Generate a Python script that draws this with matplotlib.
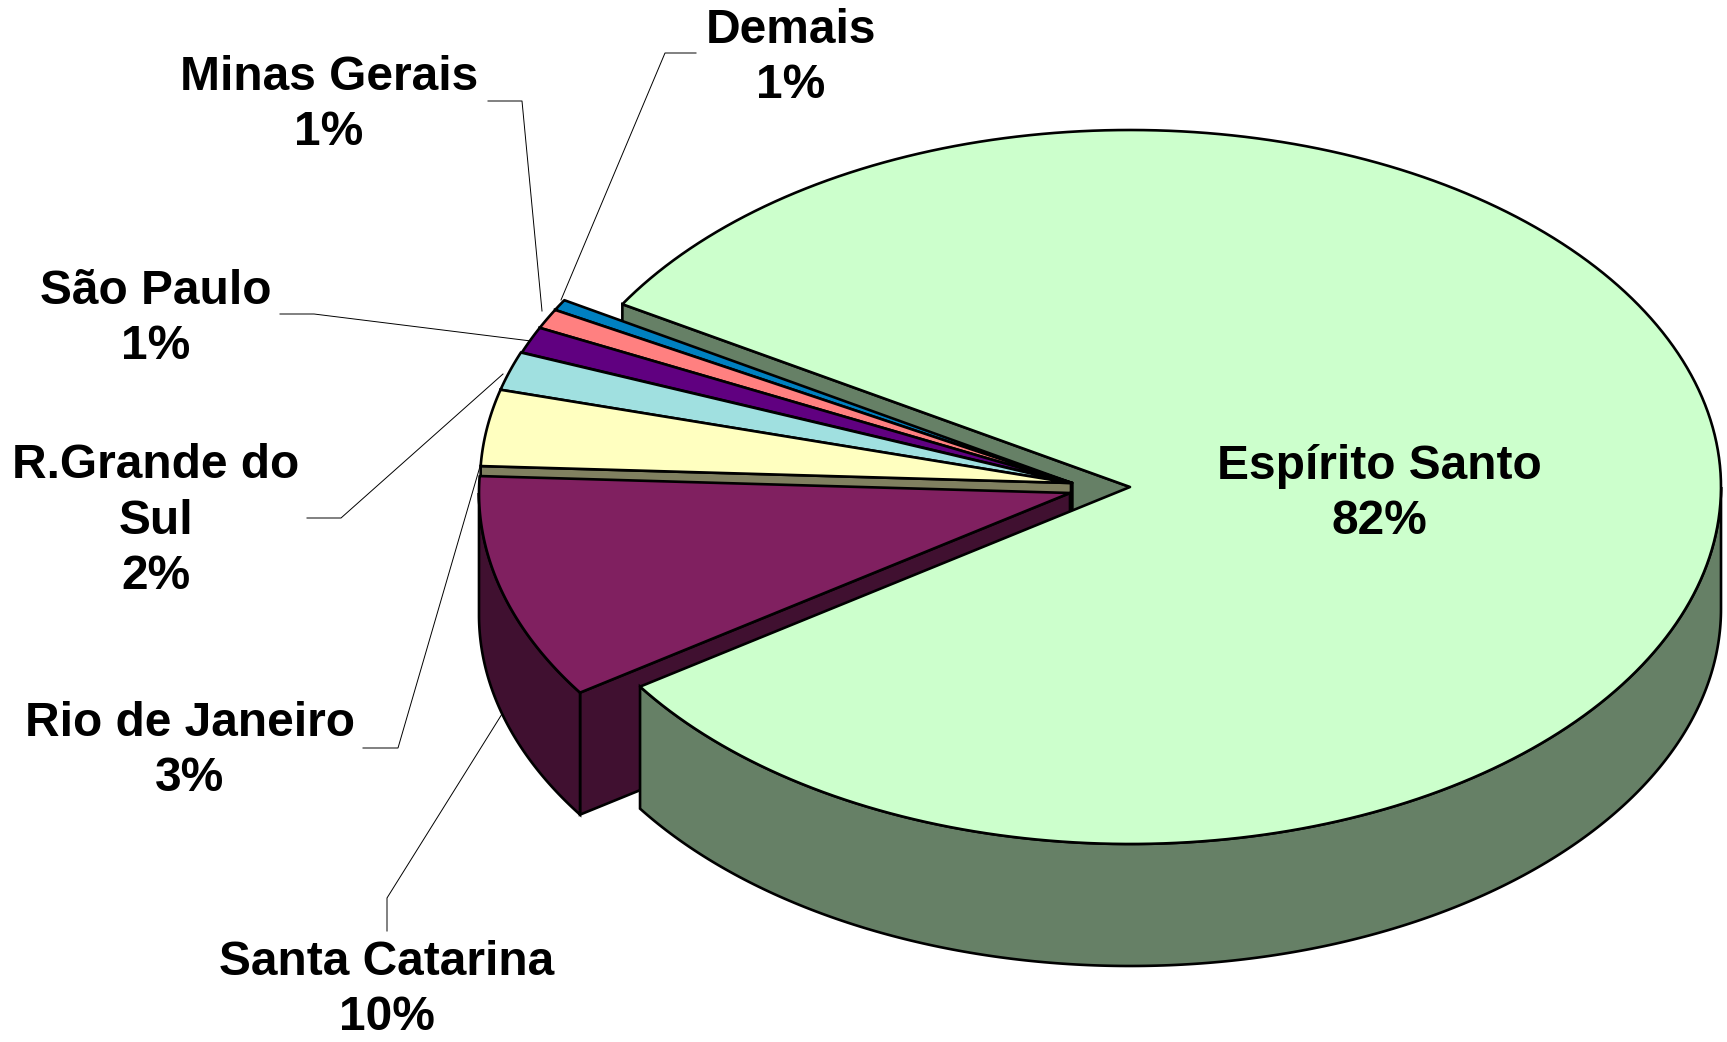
import numpy as np
import matplotlib
matplotlib.use('Agg')
import matplotlib.pyplot as plt

# Slices, going counter clockwise from the gap above the big slice
states = ['Demais', 'Minas Gerais', 'São Paulo', 'R.Grande do\nSul', 'Rio de Janeiro', 'Santa Catarina', 'Espírito Santo']
values = [0.5, 0.9, 1.2, 1.75, 3.45, 10.2, 82.0]
pct_labels = ['1%', '1%', '1%', '2%', '3%', '10%', '82%']
colors = ['#0080C0', '#FF8080', '#600080', '#A0E0E0', '#FFFFC0', '#802060', '#CCFFCC']

# Geometry, in pixels of the output picture
start_angle = 149.2
rx, ry = 591, 357
depth = 122
tips = [(1072, 483), (1072, 483), (1072, 483), (1071, 483), (1071, 483), (1070, 493), (1130, 487)]
label_pos = [(791, 58), (329, 105), (156, 319), (156, 521), (190, 751), (387, 990), (1379, 494)]
leaders = [
    [(696, 53), (665, 53), (561, 300)],
    [(488, 101), (522, 101), (542, 311)],
    [(280, 314), (314, 314), (531, 341)],
    [(307, 518), (341, 518), (503, 374)],
    [(363, 748), (398, 748), (481, 463)],
    [(387, 931), (387, 898), (502, 714)],
]

EDGE = 1.9


def shade(color):
    return tuple(c * 0.5 for c in matplotlib.colors.to_rgb(color))


def arc(tip, a0, a1):
    ang = np.radians(np.linspace(a0, a1, 240))
    return tip[0] + rx * np.cos(ang), tip[1] - ry * np.sin(ang)


def draw_top(ax, tip, a0, a1, color, zorder):
    x, y = arc(tip, a0, a1)
    ax.fill(np.r_[tip[0], x], np.r_[tip[1], y], facecolor=color, edgecolor='k', linewidth=EDGE,
            joinstyle='round', zorder=zorder)


def draw_radial_wall(ax, tip, angle, color, zorder):
    x, y = arc(tip, angle, angle)
    px = [tip[0], x[0], x[0], tip[0]]
    py = [tip[1], y[0], y[0] + depth, tip[1] + depth]
    ax.fill(px, py, facecolor=shade(color), edgecolor='k', linewidth=EDGE, zorder=zorder)


def draw_arc_wall(ax, tip, a0, a1, color, zorder):
    x, y = arc(tip, a0, a1)
    ax.fill(np.r_[x, x[::-1]], np.r_[y, y[::-1] + depth], facecolor=shade(color), edgecolor='k',
            linewidth=EDGE, zorder=zorder)


fig = plt.figure(figsize=(17.27, 10.42), dpi=100)
ax = fig.add_axes([0, 0, 1, 1])
ax.set_xlim(0, 1727)
ax.set_ylim(1042, 0)
ax.axis('off')

# cumulative angles of the slices
edges = start_angle + np.r_[0, np.cumsum(values)] * 3.6

# back wall of the big slice shows through the gap
draw_radial_wall(ax, tips[-1], start_angle, colors[-1], 1)

z = 2
for i in range(len(values) - 1):
    a0, a1 = edges[i], edges[i + 1]
    draw_radial_wall(ax, tips[i], a1, colors[i], z)
    if a1 > 180:
        draw_arc_wall(ax, tips[i], max(a0, 180), a1, colors[i], z)
    draw_top(ax, tips[i], a0, a1, colors[i], z + 1)
    z += 2

# big slice goes last, it is in front of everything
draw_arc_wall(ax, tips[-1], edges[-2], 360, colors[-1], z)
draw_top(ax, tips[-1], edges[-2], edges[-1], colors[-1], z + 1)

# leader lines
for pts in leaders:
    xs, ys = zip(*pts)
    ax.plot(xs, ys, color='k', linewidth=0.7, zorder=0)

for name, pct, (x, y) in zip(states, pct_labels, label_pos):
    ax.text(x, y, name + '\n' + pct, ha='center', va='center', multialignment='center',
            family='Liberation Sans', fontweight='bold', fontsize=34.5, linespacing=1.3, zorder=50)

fig.savefig('out.png', dpi=100)
